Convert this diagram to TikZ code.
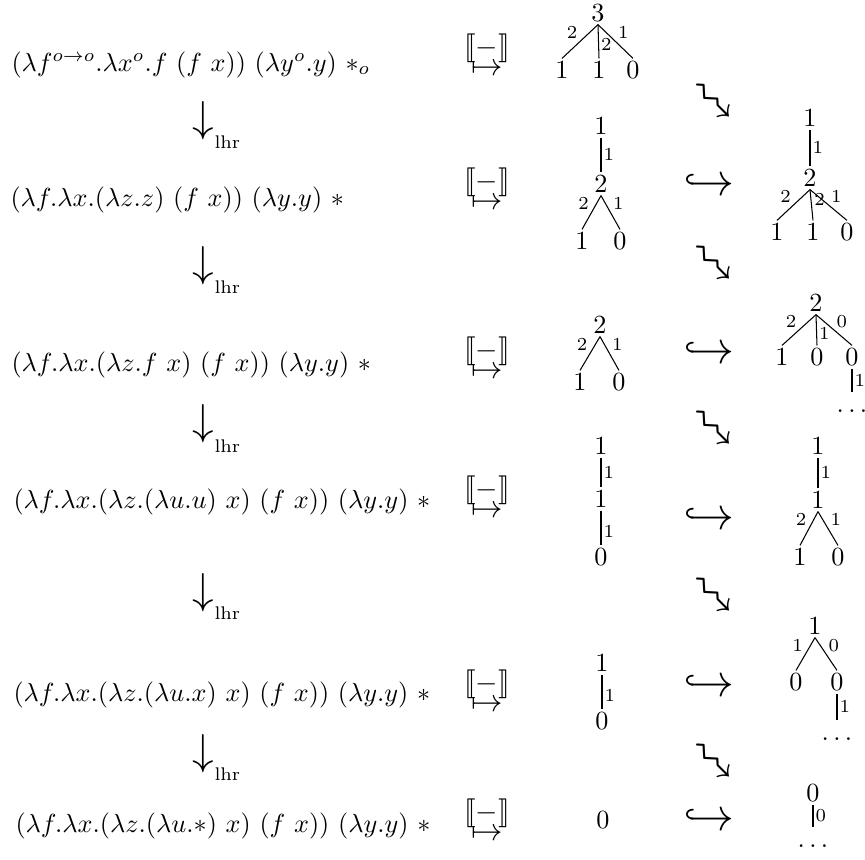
\documentclass[tikz,border=0pt]{standalone}
\usepackage{amsmath}
\usepackage{amssymb}
\usepackage{stmaryrd}
\usepackage{tikz}
\tikzset{
  num/.style={inner sep=1pt, text height=1.5ex, text depth=0pt},
  elbl/.style={font=\scriptsize, inner sep=0.8pt, auto},
  term/.style={anchor=base west, inner sep=0pt},
  sym/.style={inner sep=0pt},
}

\begin{document}
\begin{tikzpicture}[x=0.382pt,y=-0.382pt]
% units of an 865 x 859 grid, y running downwards
\useasboundingbox (0,0) rectangle (865,859);
% terms
\node[term] (t1) at (11,71) {$(\lambda f^{o\to o}.\lambda x^{o}.f\ (f\ x))\ (\lambda y^{o}.y)\ *_{o}$};
\node[term] (t2) at (10,206) {$(\lambda f.\lambda x.(\lambda z.z)\ (f\ x))\ (\lambda y.y)\ *$};
\node[term] (t3) at (11,371) {$(\lambda f.\lambda x.(\lambda z.f\ x)\ (f\ x))\ (\lambda y.y)\ *$};
\node[term] (t4) at (13,508) {$(\lambda f.\lambda x.(\lambda z.(\lambda u.u)\ x)\ (f\ x))\ (\lambda y.y)\ *$};
\node[term] (t5) at (13,701) {$(\lambda f.\lambda x.(\lambda z.(\lambda u.x)\ x)\ (f\ x))\ (\lambda y.y)\ *$};
\node[term] (t6) at (15,832) {$(\lambda f.\lambda x.(\lambda z.(\lambda u.*)\ x)\ (f\ x))\ (\lambda y.y)\ *$};
% reduction steps
\foreach \y/\l [count=\i] in {121/148, 266/293, 424/452, 593/619, 754/780}
  {\node[sym,scale=1.65] (d\i) at (203,\y) {$\downarrow$};
   \node[anchor=base west, inner sep=0pt] (dl\i) at (214,\l) {$\scriptstyle\mathrm{lhr}$};}
% interpretation arrows
\foreach \y [count=\i] in {70,204,373,512,706,835}
  {\node[sym,scale=1.2] (m\i) at (487,\y) {$\mapsto$};
   \node[sym,scale=1.1] (b\i) at (487,\y-22) {$\llbracket - \rrbracket$};}
\foreach \y [count=\i] in {185,353,519,686,820}
  {\node[sym,scale=1.75] (h\i) at (709,\y) {$\hookrightarrow$};}
\foreach \y [count=\i] in {103,265,430,597,763}
  {\node[sym,rotate=-45,scale=2.0] (z\i) at (711,\y) {$\rightsquigarrow$};}
% left trees
\node[num] (p1) at (598,13) {$3$};
\node[num] (p1a) at (562,70) {$1$};
\node[num] (p1b) at (599,70) {$1$};
\node[num] (p1c) at (633,70) {$0$};
\draw (p1.south) -- node[elbl,swap] {$2$} (p1a.north);
\draw (p1.south) -- node[elbl,pos=0.6] {$2$} (p1b.north);
\draw (p1.south) -- node[elbl] {$1$} (p1c.north);

\node[num] (p2) at (601,126) {$1$};
\node[num] (p2m) at (601,184) {$2$};
\node[num] (p2a) at (582,241) {$1$};
\node[num] (p2b) at (620,241) {$0$};
\draw (p2.south) -- node[elbl] {$1$} (p2m.north);
\draw (p2m.south) -- node[elbl,swap] {$2$} (p2a.north);
\draw (p2m.south) -- node[elbl] {$1$} (p2b.north);

\node[num] (p3) at (600,325) {$2$};
\node[num] (p3a) at (580,382) {$1$};
\node[num] (p3b) at (619,382) {$0$};
\draw (p3.south) -- node[elbl,swap] {$2$} (p3a.north);
\draw (p3.south) -- node[elbl] {$1$} (p3b.north);

\node[num] (p4) at (601,446) {$1$};
\node[num] (p4m) at (601,499) {$1$};
\node[num] (p4a) at (601,557) {$0$};
\draw (p4.south) -- node[elbl] {$1$} (p4m.north);
\draw (p4m.south) -- node[elbl,pos=0.6] {$1$} (p4a.north);

\node[num] (p5) at (602,663) {$1$};
\node[num] (p5a) at (602,721) {$0$};
\draw (p5.south) -- node[elbl,pos=0.6] {$1$} (p5a.north);

\node[num] (p6) at (603,820) {$0$};
% right trees
\node[num] (q1) at (810,118) {$1$};
\node[num] (q1m) at (810,178) {$2$};
\node[num] (q1a) at (777,232) {$1$};
\node[num] (q1b) at (813,232) {$1$};
\node[num] (q1c) at (847,232) {$0$};
\draw (q1.south) -- node[elbl] {$1$} (q1m.north);
\draw (q1m.south) -- node[elbl,swap] {$2$} (q1a.north);
\draw (q1m.south) -- node[elbl,pos=0.6] {$2$} (q1b.north);
\draw (q1m.south) -- node[elbl] {$1$} (q1c.north);

\node[num] (q2) at (816,303) {$2$};
\node[num] (q2a) at (782,357) {$1$};
\node[num] (q2b) at (817,357) {$0$};
\node[num] (q2c) at (852,357) {$0$};
\node[num] (q2d) at (852,404) {$\ldots$};
\draw (q2.south) -- node[elbl,swap] {$2$} (q2a.north);
\draw (q2.south) -- node[elbl,pos=0.6] {$1$} (q2b.north);
\draw (q2.south) -- node[elbl] {$0$} (q2c.north);
\draw (q2c.south) -- node[elbl] {$1$} (q2d.north);

\node[num] (q3) at (818,446) {$1$};
\node[num] (q3m) at (818,500) {$1$};
\node[num] (q3a) at (800,557) {$1$};
\node[num] (q3b) at (838,557) {$0$};
\draw (q3.south) -- node[elbl] {$1$} (q3m.north);
\draw (q3m.south) -- node[elbl,swap] {$2$} (q3a.north);
\draw (q3m.south) -- node[elbl] {$1$} (q3b.north);

\node[num] (q4) at (815,626) {$1$};
\node[num] (q4a) at (796,682) {$0$};
\node[num] (q4b) at (837,682) {$0$};
\node[num] (q4d) at (837,732) {$\ldots$};
\draw (q4.south) -- node[elbl,swap] {$1$} (q4a.north);
\draw (q4.south) -- node[elbl] {$0$} (q4b.north);
\draw (q4b.south) -- node[elbl] {$1$} (q4d.north);

\node[num] (q5) at (813,793) {$0$};
\node[num] (q5d) at (813,839) {$\ldots$};
\draw (q5.south) -- node[elbl] {$0$} (q5d.north);
\end{tikzpicture}
\end{document}
